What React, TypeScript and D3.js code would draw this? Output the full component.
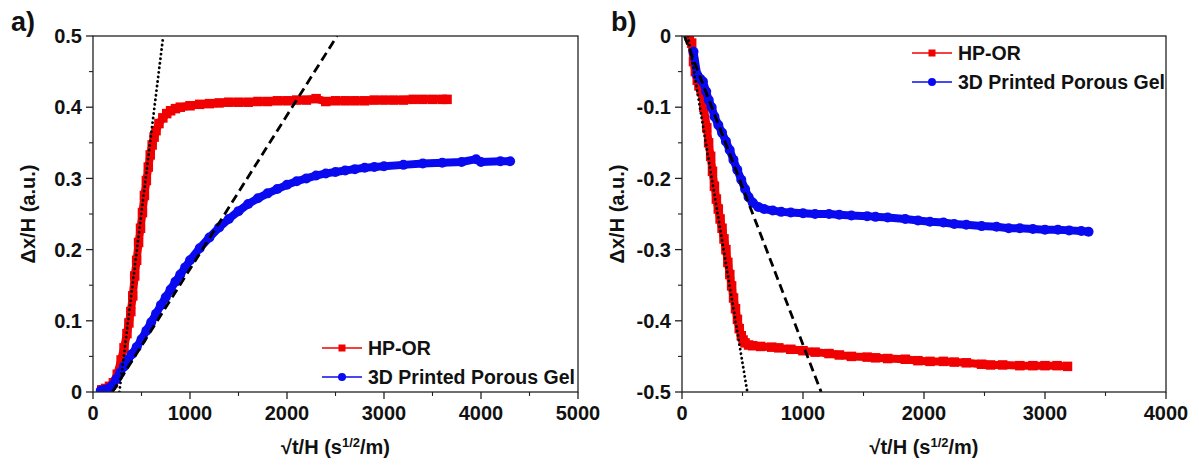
import React from "react";
import * as d3 from "d3";

// ---------- Panel a data ----------
const redAX = [90,130,170,210,250,290,320,350,370,390,410,430,450,470,490,510,530,550,570,590,610,630,650,680,720,760,800,850,900,1000,1100,1200,1300,1400,1500,1600,1700,1800,1900,2000,2100,2200,2300,2400,2500,2600,2700,2800,2900,3000,3100,3200,3300,3400,3500,3600,3650];
const redAY = [0.003,0.005,0.008,0.013,0.025,0.045,0.062,0.082,0.097,0.113,0.135,0.163,0.185,0.21,0.23,0.252,0.276,0.297,0.316,0.333,0.347,0.358,0.367,0.377,0.385,0.391,0.395,0.398,0.4,0.402,0.404,0.405,0.406,0.407,0.407,0.407,0.408,0.408,0.409,0.409,0.41,0.41,0.412,0.408,0.409,0.409,0.409,0.409,0.41,0.41,0.41,0.41,0.411,0.411,0.411,0.411,0.411];
const blueAX = [80,120,160,200,240,280,320,360,400,450,500,550,600,650,700,750,800,850,900,950,1000,1100,1200,1300,1400,1500,1600,1700,1800,1900,2000,2100,2200,2300,2400,2500,2600,2700,2800,2900,3000,3200,3400,3600,3800,3950,4000,4200,4300];
const blueAY = [0.002,0.003,0.005,0.009,0.018,0.027,0.036,0.045,0.053,0.063,0.074,0.086,0.098,0.11,0.122,0.133,0.144,0.155,0.165,0.175,0.185,0.202,0.217,0.231,0.243,0.254,0.264,0.272,0.279,0.285,0.291,0.296,0.3,0.304,0.307,0.309,0.311,0.313,0.315,0.316,0.317,0.319,0.321,0.322,0.323,0.327,0.323,0.324,0.324];
const dottedA = [[272, 0], [724, 0.5]];
const dashedA = [[200, 0], [2516, 0.5]];
const xTicksA = [0, 1000, 2000, 3000, 4000, 5000];
const yTicksA = [0, 0.1, 0.2, 0.3, 0.4, 0.5];
const yLabelsA = ["0", "0.1", "0.2", "0.3", "0.4", "0.5"];

// ---------- Panel b data ----------
const redBX = [60,80,95,110,126,140,158,180,205,220,237,252,268,284,300,315,331,347,363,379,395,410,426,442,458,473,490,505,521,550,584,650,741,800,899,1000,1100,1215,1300,1400,1530,1600,1700,1845,1950,2050,2161,2250,2350,2476,2550,2650,2792,2900,3000,3100,3186];
const redBY = [0,-0.01,-0.036,-0.05,-0.062,-0.07,-0.076,-0.1,-0.129,-0.15,-0.169,-0.19,-0.211,-0.229,-0.243,-0.257,-0.27,-0.285,-0.3,-0.318,-0.335,-0.351,-0.368,-0.383,-0.398,-0.411,-0.421,-0.427,-0.431,-0.434,-0.435,-0.436,-0.437,-0.438,-0.44,-0.442,-0.444,-0.446,-0.448,-0.45,-0.451,-0.452,-0.453,-0.454,-0.456,-0.457,-0.457,-0.458,-0.459,-0.461,-0.462,-0.462,-0.463,-0.463,-0.463,-0.463,-0.464];
const blueBX = [95,126,150,173,200,221,245,268,300,331,363,394,425,457,490,521,550,584,630,678,750,820,899,1000,1100,1215,1300,1400,1530,1600,1700,1845,1950,2050,2161,2250,2350,2476,2600,2700,2792,2900,3000,3107,3200,3300,3360];
const blueBY = [-0.022,-0.055,-0.06,-0.064,-0.078,-0.09,-0.1,-0.113,-0.125,-0.136,-0.148,-0.16,-0.174,-0.188,-0.202,-0.215,-0.226,-0.234,-0.24,-0.243,-0.245,-0.247,-0.248,-0.249,-0.25,-0.25,-0.251,-0.252,-0.253,-0.254,-0.255,-0.257,-0.259,-0.261,-0.262,-0.264,-0.265,-0.267,-0.268,-0.27,-0.27,-0.271,-0.272,-0.272,-0.273,-0.274,-0.275];
const dottedB = [[50, 0], [540, -0.5]];
const dashedB = [[20, 0], [1150, -0.5]];
const xTicksB = [0, 1000, 2000, 3000, 4000];
const yTicksB = [0, -0.1, -0.2, -0.3, -0.4, -0.5];
const yLabelsB = ["0", "-0.1", "-0.2", "-0.3", "-0.4", "-0.5"];

const seriesNames = ["HP-OR", "3D Printed Porous Gel"];
const RED = "#f00000";
const BLUE = "#0a0af0";
const FONT = "'Liberation Sans', Arial, sans-serif";

type PanelProps = {
  id: string;
  label: string;
  left: number; right: number; top: number; bottom: number;
  xDomain: [number, number];
  yDomain: [number, number];
  xTicks: number[];
  yTicks: number[];
  yLabels: string[];
  redX: number[]; redY: number[];
  blueX: number[]; blueY: number[];
  dotted: number[][]; dashed: number[][];
  legendX: number; legendY: number;
  labelX: number;
};

function Panel(p: PanelProps) {
  const x = d3.scaleLinear().domain(p.xDomain).range([p.left, p.right]);
  const y = d3.scaleLinear().domain(p.yDomain).range([p.bottom, p.top]);
  const line = d3.line<number[]>().x(d => x(d[0])).y(d => y(d[1]));
  const red = p.redX.map((v, i) => [v, p.redY[i]]);
  const blue = p.blueX.map((v, i) => [v, p.blueY[i]]);
  const xStep = p.xTicks[1] - p.xTicks[0];
  const xMinor = p.xTicks.slice(0, -1).map(t => t + xStep / 2);
  const yMinor = p.yTicks.slice(0, -1).map((t, i) => (t + p.yTicks[i + 1]) / 2);
  const clip = `clip-${p.id}`;
  const sq = 9.5;
  const cr = 5;
  const axisColor = "#222";
  const cx = (p.left + p.right) / 2;
  const cy = (p.top + p.bottom) / 2;
  return (
    <g>
      <defs>
        <clipPath id={clip}>
          <rect x={p.left} y={p.top} width={p.right - p.left} height={p.bottom - p.top} />
        </clipPath>
      </defs>
      <g clipPath={`url(#${clip})`}>
        <path d={line(red) || ""} fill="none" stroke={RED} strokeWidth={8} strokeLinejoin="round" />
        {red.map((d, i) => (
          <rect key={"r" + i} x={x(d[0]) - sq / 2} y={y(d[1]) - sq / 2} width={sq} height={sq} fill={RED} />
        ))}
        <path d={line(blue) || ""} fill="none" stroke={BLUE} strokeWidth={8} strokeLinejoin="round" />
        {blue.map((d, i) => (
          <circle key={"b" + i} cx={x(d[0])} cy={y(d[1])} r={cr} fill={BLUE} />
        ))}
        <path d={line(p.dashed) || ""} fill="none" stroke="#000" strokeWidth={2.8} strokeDasharray="9,5" />
        <path d={line(p.dotted) || ""} fill="none" stroke="#000" strokeWidth={2.8} strokeDasharray="0.1,4.5" strokeLinecap="round" />
      </g>
      {/* frame */}
      <rect x={p.left} y={p.top} width={p.right - p.left} height={p.bottom - p.top} fill="none" stroke={axisColor} strokeWidth={1.3} />
      {/* x ticks */}
      {p.xTicks.map((t, i) => (
        <g key={"xt" + i}>
          <line x1={x(t)} x2={x(t)} y1={p.bottom} y2={p.bottom + 7} stroke={axisColor} strokeWidth={1.3} />
          <text x={x(t)} y={p.bottom + 28} textAnchor="middle" fontFamily={FONT} fontWeight="bold" fontSize={20} fill="#111">{t}</text>
        </g>
      ))}
      {xMinor.map((t, i) => (
        <line key={"xm" + i} x1={x(t)} x2={x(t)} y1={p.bottom} y2={p.bottom + 4} stroke={axisColor} strokeWidth={1.1} />
      ))}
      {p.yTicks.map((t, i) => (
        <g key={"yt" + i}>
          <line x1={p.left - 7} x2={p.left} y1={y(t)} y2={y(t)} stroke={axisColor} strokeWidth={1.3} />
          <text x={p.left - 11} y={y(t)} dy="0.36em" textAnchor="end" fontFamily={FONT} fontWeight="bold" fontSize={20} fill="#111">{p.yLabels[i]}</text>
        </g>
      ))}
      {yMinor.map((t, i) => (
        <line key={"ym" + i} x1={p.left - 4} x2={p.left} y1={y(t)} y2={y(t)} stroke={axisColor} strokeWidth={1.1} />
      ))}
      {/* axis titles */}
      <text x={cx} y={p.bottom + 62} textAnchor="middle" fontFamily={FONT} fontWeight="bold" fontSize={20} fill="#111">
        √t/H (s<tspan dy={-7} fontSize={13}>1/2</tspan><tspan dy={7}>/m)</tspan>
      </text>
      <text transform={`translate(${p.left - 58},${cy}) rotate(-90)`} textAnchor="middle" fontFamily={FONT} fontWeight="bold" fontSize={20} fill="#111">
        Δx/H (a.u.)
      </text>
      {/* panel label */}
      <text x={p.labelX} y={31} fontFamily={FONT} fontWeight="bold" fontSize={27} fill="#111">{p.label}</text>
      {/* legend */}
      {seriesNames.map((name, i) => {
        const ly = p.legendY + i * 29;
        const lx = p.legendX;
        return (
          <g key={"lg" + i}>
            <line x1={lx} x2={lx + 40} y1={ly} y2={ly} stroke={i === 0 ? RED : BLUE} strokeWidth={1.5} />
            {i === 0 ? (
              <rect x={lx + 20 - 3.5} y={ly - 3.5} width={7} height={7} fill={RED} />
            ) : (
              <circle cx={lx + 20} cy={ly} r={4} fill={BLUE} />
            )}
            <text x={lx + 46} y={ly} dy="0.36em" fontFamily={FONT} fontWeight="bold" fontSize={19.5} fill="#111">{name}</text>
          </g>
        );
      })}
    </g>
  );
}

export default function App() {
  return (
    <svg width={1199} height={466} style={{ position: "absolute", left: 0, top: 0, background: "#fff" }}>
      <rect x={0} y={0} width={1199} height={466} fill="#fff" />
      <Panel id="a" label="a)" labelX={11}
        left={93} right={578} top={36} bottom={392}
        xDomain={[0, 5000]} yDomain={[0, 0.5]}
        xTicks={xTicksA} yTicks={yTicksA} yLabels={yLabelsA}
        redX={redAX} redY={redAY} blueX={blueAX} blueY={blueAY}
        dotted={dottedA} dashed={dashedA}
        legendX={322} legendY={348} />
      <Panel id="b" label="b)" labelX={611}
        left={682} right={1166} top={36} bottom={392}
        xDomain={[0, 4000]} yDomain={[-0.5, 0]}
        xTicks={xTicksB} yTicks={yTicksB} yLabels={yLabelsB}
        redX={redBX} redY={redBY} blueX={blueBX} blueY={blueBY}
        dotted={dottedB} dashed={dashedB}
        legendX={912} legendY={53} />
    </svg>
  );
}
